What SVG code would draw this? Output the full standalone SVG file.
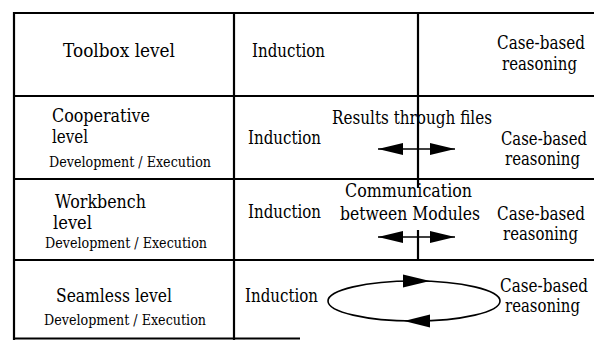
<svg xmlns="http://www.w3.org/2000/svg" width="594" height="340" viewBox="0 0 594 340">
  <style>
    text { font-family: "DejaVu Serif", "Liberation Serif", serif; fill: #000; }
    .main { font-size: 18px; }
    .small { font-size: 14px; }
    .rule { stroke: #000; stroke-width: 2.2; fill: none; }
    .shaft { stroke: #000; stroke-width: 1.6; fill: none; }
    .head { fill: #000; stroke: none; }
  </style>
  <defs>
    <marker id="arrowhead" markerUnits="userSpaceOnUse" markerWidth="26" markerHeight="14" refX="25" refY="7" orient="auto-start-reverse">
      <path d="M0,1 L25,7 L0,13 Z" class="head"/>
    </marker>
  </defs>

  <!-- table grid -->
  <g id="grid">
    <line class="rule" x1="13" y1="13" x2="594" y2="13"/>
    <line class="rule" x1="13" y1="96" x2="594" y2="96"/>
    <line class="rule" x1="13" y1="179" x2="594" y2="179"/>
    <line class="rule" x1="13" y1="260" x2="594" y2="260"/>
    <line class="rule" x1="13" y1="338.5" x2="300" y2="338.5"/>
    <line class="rule" x1="14" y1="12" x2="14" y2="340"/>
    <line class="rule" x1="234" y1="12" x2="234" y2="340"/>
    <line class="rule" x1="418" y1="12" x2="418" y2="179"/>
  </g>

  <!-- row labels -->
  <g id="toolbox-level">
    <text class="main" x="63" y="57" textLength="112" lengthAdjust="spacingAndGlyphs">Toolbox level</text>
  </g>
  <g id="cooperative-level">
    <text class="main" x="52" y="122" textLength="98" lengthAdjust="spacingAndGlyphs">Cooperative</text>
    <text class="main" x="52" y="143" textLength="36" lengthAdjust="spacingAndGlyphs">level</text>
    <text class="small" x="49" y="167" textLength="162" lengthAdjust="spacingAndGlyphs">Development / Execution</text>
  </g>
  <g id="workbench-level">
    <text class="main" x="55" y="208" textLength="91" lengthAdjust="spacingAndGlyphs">Workbench</text>
    <text class="main" x="53" y="229" textLength="39" lengthAdjust="spacingAndGlyphs">level</text>
    <text class="small" x="45" y="248" textLength="162" lengthAdjust="spacingAndGlyphs">Development / Execution</text>
  </g>
  <g id="seamless-level">
    <text class="main" x="56" y="302" textLength="116" lengthAdjust="spacingAndGlyphs">Seamless level</text>
    <text class="small" x="44" y="325" textLength="162" lengthAdjust="spacingAndGlyphs">Development / Execution</text>
  </g>

  <!-- induction modules -->
  <g id="induction-1"><text class="main" x="252" y="57" textLength="73" lengthAdjust="spacingAndGlyphs">Induction</text></g>
  <g id="induction-2"><text class="main" x="248" y="144" textLength="73" lengthAdjust="spacingAndGlyphs">Induction</text></g>
  <g id="induction-3"><text class="main" x="248" y="218" textLength="73" lengthAdjust="spacingAndGlyphs">Induction</text></g>
  <g id="induction-4"><text class="main" x="245" y="302" textLength="73" lengthAdjust="spacingAndGlyphs">Induction</text></g>

  <!-- case-based reasoning modules -->
  <g id="cbr-1">
    <text class="main" x="497" y="49" textLength="88" lengthAdjust="spacingAndGlyphs">Case-based</text>
    <text class="main" x="502" y="70" textLength="75" lengthAdjust="spacingAndGlyphs">reasoning</text>
  </g>
  <g id="cbr-2">
    <text class="main" x="501" y="145" textLength="86" lengthAdjust="spacingAndGlyphs">Case-based</text>
    <text class="main" x="505" y="165" textLength="75" lengthAdjust="spacingAndGlyphs">reasoning</text>
  </g>
  <g id="cbr-3">
    <text class="main" x="497" y="220" textLength="88" lengthAdjust="spacingAndGlyphs">Case-based</text>
    <text class="main" x="503" y="240" textLength="75" lengthAdjust="spacingAndGlyphs">reasoning</text>
  </g>
  <g id="cbr-4">
    <text class="main" x="500" y="292" textLength="88" lengthAdjust="spacingAndGlyphs">Case-based</text>
    <text class="main" x="505" y="312" textLength="75" lengthAdjust="spacingAndGlyphs">reasoning</text>
  </g>

  <!-- coupling labels -->
  <g id="coupling-labels">
    <text class="main" x="332" y="124" textLength="160" lengthAdjust="spacingAndGlyphs">Results through files</text>
    <text class="main" x="345" y="197" textLength="127" lengthAdjust="spacingAndGlyphs">Communication</text>
    <text class="main" x="340" y="220" textLength="140" lengthAdjust="spacingAndGlyphs">between Modules</text>
  </g>

  <!-- connectors -->
  <g id="connectors">
    <line class="shaft" x1="378" y1="149" x2="455" y2="149" marker-start="url(#arrowhead)" marker-end="url(#arrowhead)"/>
    <line class="shaft" x1="378" y1="237" x2="455" y2="237" marker-start="url(#arrowhead)" marker-end="url(#arrowhead)"/>
    <line class="rule" x1="418" y1="179" x2="418" y2="188"/>
    <line class="rule" x1="418" y1="230" x2="418" y2="260"/>
    <ellipse class="shaft" cx="414" cy="301" rx="86" ry="20"/>
    <path class="head" d="M403,274.5 L430,281 L403,287.5 Z"/>
    <path class="head" d="M430,314.5 L404,321 L430,327.5 Z"/>
  </g>
</svg>
